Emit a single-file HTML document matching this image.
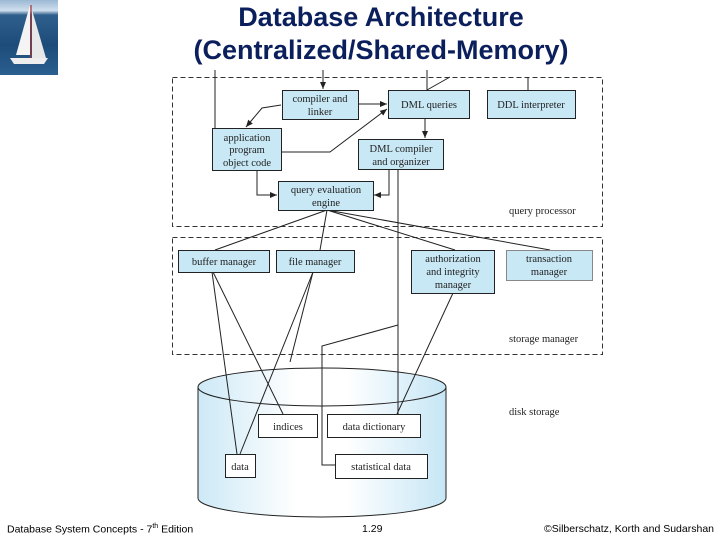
<!DOCTYPE html>
<html><head><meta charset="utf-8"><style>
html,body{margin:0;padding:0;background:#fff;}
body{width:720px;height:540px;position:relative;overflow:hidden;}
.t{position:absolute;left:0;width:762px;text-align:center;font-family:"Liberation Sans",sans-serif;font-weight:bold;font-size:27px;color:#0b1f5c;line-height:32px;}
.f{position:absolute;top:523px;font-family:"Liberation Sans",sans-serif;font-size:10.5px;color:#000;}
</style></head><body>
<div style="position:absolute;left:0;top:0;width:58px;height:75px;background:linear-gradient(#9ab8d4 0,#cfdfee 14%,#2f5f8c 20%,#1d4c7a 60%,#2a5f8f 100%);"></div>
<svg style="position:absolute;left:0;top:0" width="58" height="75"><polygon points="30,5 16,55 30,55" fill="#f4f4f4"/><polygon points="32,10 46,58 32,58" fill="#e8e8e8"/><line x1="31" y1="5" x2="31" y2="60" stroke="#a33" stroke-width="1.2"/><polygon points="10,58 48,58 44,64 14,64" fill="#eee"/></svg>
<div class="t" style="top:1px">Database Architecture</div>
<div class="t" style="top:34px">(Centralized/Shared-Memory)</div>
<svg style="position:absolute;left:0;top:0" width="720" height="540" font-family="Liberation Serif, serif" font-size="10.5">
<defs>
<marker id="a" markerWidth="8" markerHeight="8" refX="7" refY="4" orient="auto" markerUnits="userSpaceOnUse"><path d="M0,1 L7,4 L0,7 z" fill="#222"/></marker>
<linearGradient id="cg" x1="0" x2="1" y1="0" y2="0"><stop offset="0" stop-color="#cde9f6"/><stop offset="0.4" stop-color="#fff"/><stop offset="0.6" stop-color="#fff"/><stop offset="1" stop-color="#c6e6f5"/></linearGradient>
</defs>
<g fill="none" stroke="#333" stroke-dasharray="5,3" stroke-width="1">
<rect x="172.5" y="77.5" width="430" height="149"/>
<rect x="172.5" y="237.5" width="430" height="117"/>
</g>
<path d="M198,387 L198,498 A124,19 0 0 0 446,498 L446,387" fill="url(#cg)" stroke="#222"/>
<ellipse cx="322" cy="387" rx="124" ry="19" fill="url(#cg)" stroke="#222"/>
<g stroke="#222" stroke-width="1" fill="none">
<line x1="215" y1="70" x2="215" y2="128"/>
<line x1="323" y1="70" x2="323" y2="89" marker-end="url(#a)"/>
<line x1="427" y1="70" x2="427" y2="90"/>
<line x1="427" y1="90" x2="450" y2="77"/>
<line x1="528" y1="77" x2="528" y2="90"/>
<line x1="358" y1="104" x2="387" y2="104" marker-end="url(#a)"/>
<polyline points="281,105 262,108 246,127" marker-end="url(#a)"/>
<polyline points="281,152 330,152 387,109" marker-end="url(#a)"/>
<line x1="425" y1="118" x2="425" y2="138" marker-end="url(#a)"/>
<polyline points="257,170 257,195 277,195" marker-end="url(#a)"/>
<polyline points="389,169 389,195 374,195" marker-end="url(#a)"/>
<line x1="398" y1="169" x2="398" y2="414"/>
<line x1="327" y1="210" x2="215" y2="250"/>
<line x1="327" y1="210" x2="320" y2="250"/>
<line x1="327" y1="210" x2="455" y2="250"/>
<line x1="327" y1="210" x2="550" y2="250"/>
<line x1="212" y1="272" x2="237" y2="454"/>
<line x1="213" y1="272" x2="283" y2="414"/>
<line x1="313" y1="272" x2="240" y2="454"/>
<line x1="313" y1="272" x2="290" y2="362"/>
<polyline points="398,325 322,346 322,465 335,465"/>
<line x1="453" y1="293" x2="397" y2="414"/>
</g>
<g stroke="#222" fill="#c8e8f5">
<rect x="282.5" y="90.5" width="76" height="29"/>
<rect x="388.5" y="90.5" width="81" height="28"/>
<rect x="487.5" y="90.5" width="88" height="28"/>
<rect x="212.5" y="128.5" width="69" height="42"/>
<rect x="358.5" y="139.5" width="85" height="30"/>
<rect x="278.5" y="181.5" width="95" height="29"/>
<rect x="178.5" y="250.5" width="91" height="22"/>
<rect x="276.5" y="250.5" width="78" height="22"/>
<rect x="411.5" y="250.5" width="83" height="43"/>
<rect x="506.5" y="250.5" width="86" height="30" stroke="#888"/>
</g>
<g stroke="#222" fill="#fff">
<rect x="258.5" y="414.5" width="59" height="23"/>
<rect x="327.5" y="414.5" width="93" height="23"/>
<rect x="225.5" y="454.5" width="30" height="23"/>
<rect x="335.5" y="454.5" width="92" height="24"/>
</g>
<g fill="#222" text-anchor="middle">
<text x="320" y="102">compiler and</text><text x="320" y="115">linker</text>
<text x="429" y="108">DML queries</text>
<text x="531" y="108">DDL interpreter</text>
<text x="247" y="141">application</text><text x="247" y="153">program</text><text x="247" y="166">object code</text>
<text x="401" y="152">DML compiler</text><text x="401" y="165">and organizer</text>
<text x="326" y="193">query evaluation</text><text x="326" y="206">engine</text>
<text x="224" y="265">buffer manager</text>
<text x="315" y="265">file manager</text>
<text x="453" y="262">authorization</text><text x="453" y="275">and integrity</text><text x="453" y="288">manager</text>
<text x="549" y="262">transaction</text><text x="549" y="275">manager</text>
<text x="288" y="430">indices</text>
<text x="374" y="430">data dictionary</text>
<text x="240" y="470">data</text>
<text x="381" y="470">statistical data</text>
</g>
<g fill="#222">
<text x="509" y="214">query processor</text>
<text x="509" y="342">storage manager</text>
<text x="509" y="415">disk storage</text>
</g>
</svg>
<div class="f" style="left:7px">Database System Concepts - 7<sup style="font-size:7px">th</sup> Edition</div>
<div class="f" style="left:362px">1.29</div>
<div class="f" style="left:538px;width:176px;text-align:right">©Silberschatz, Korth and Sudarshan</div>
</body></html>
